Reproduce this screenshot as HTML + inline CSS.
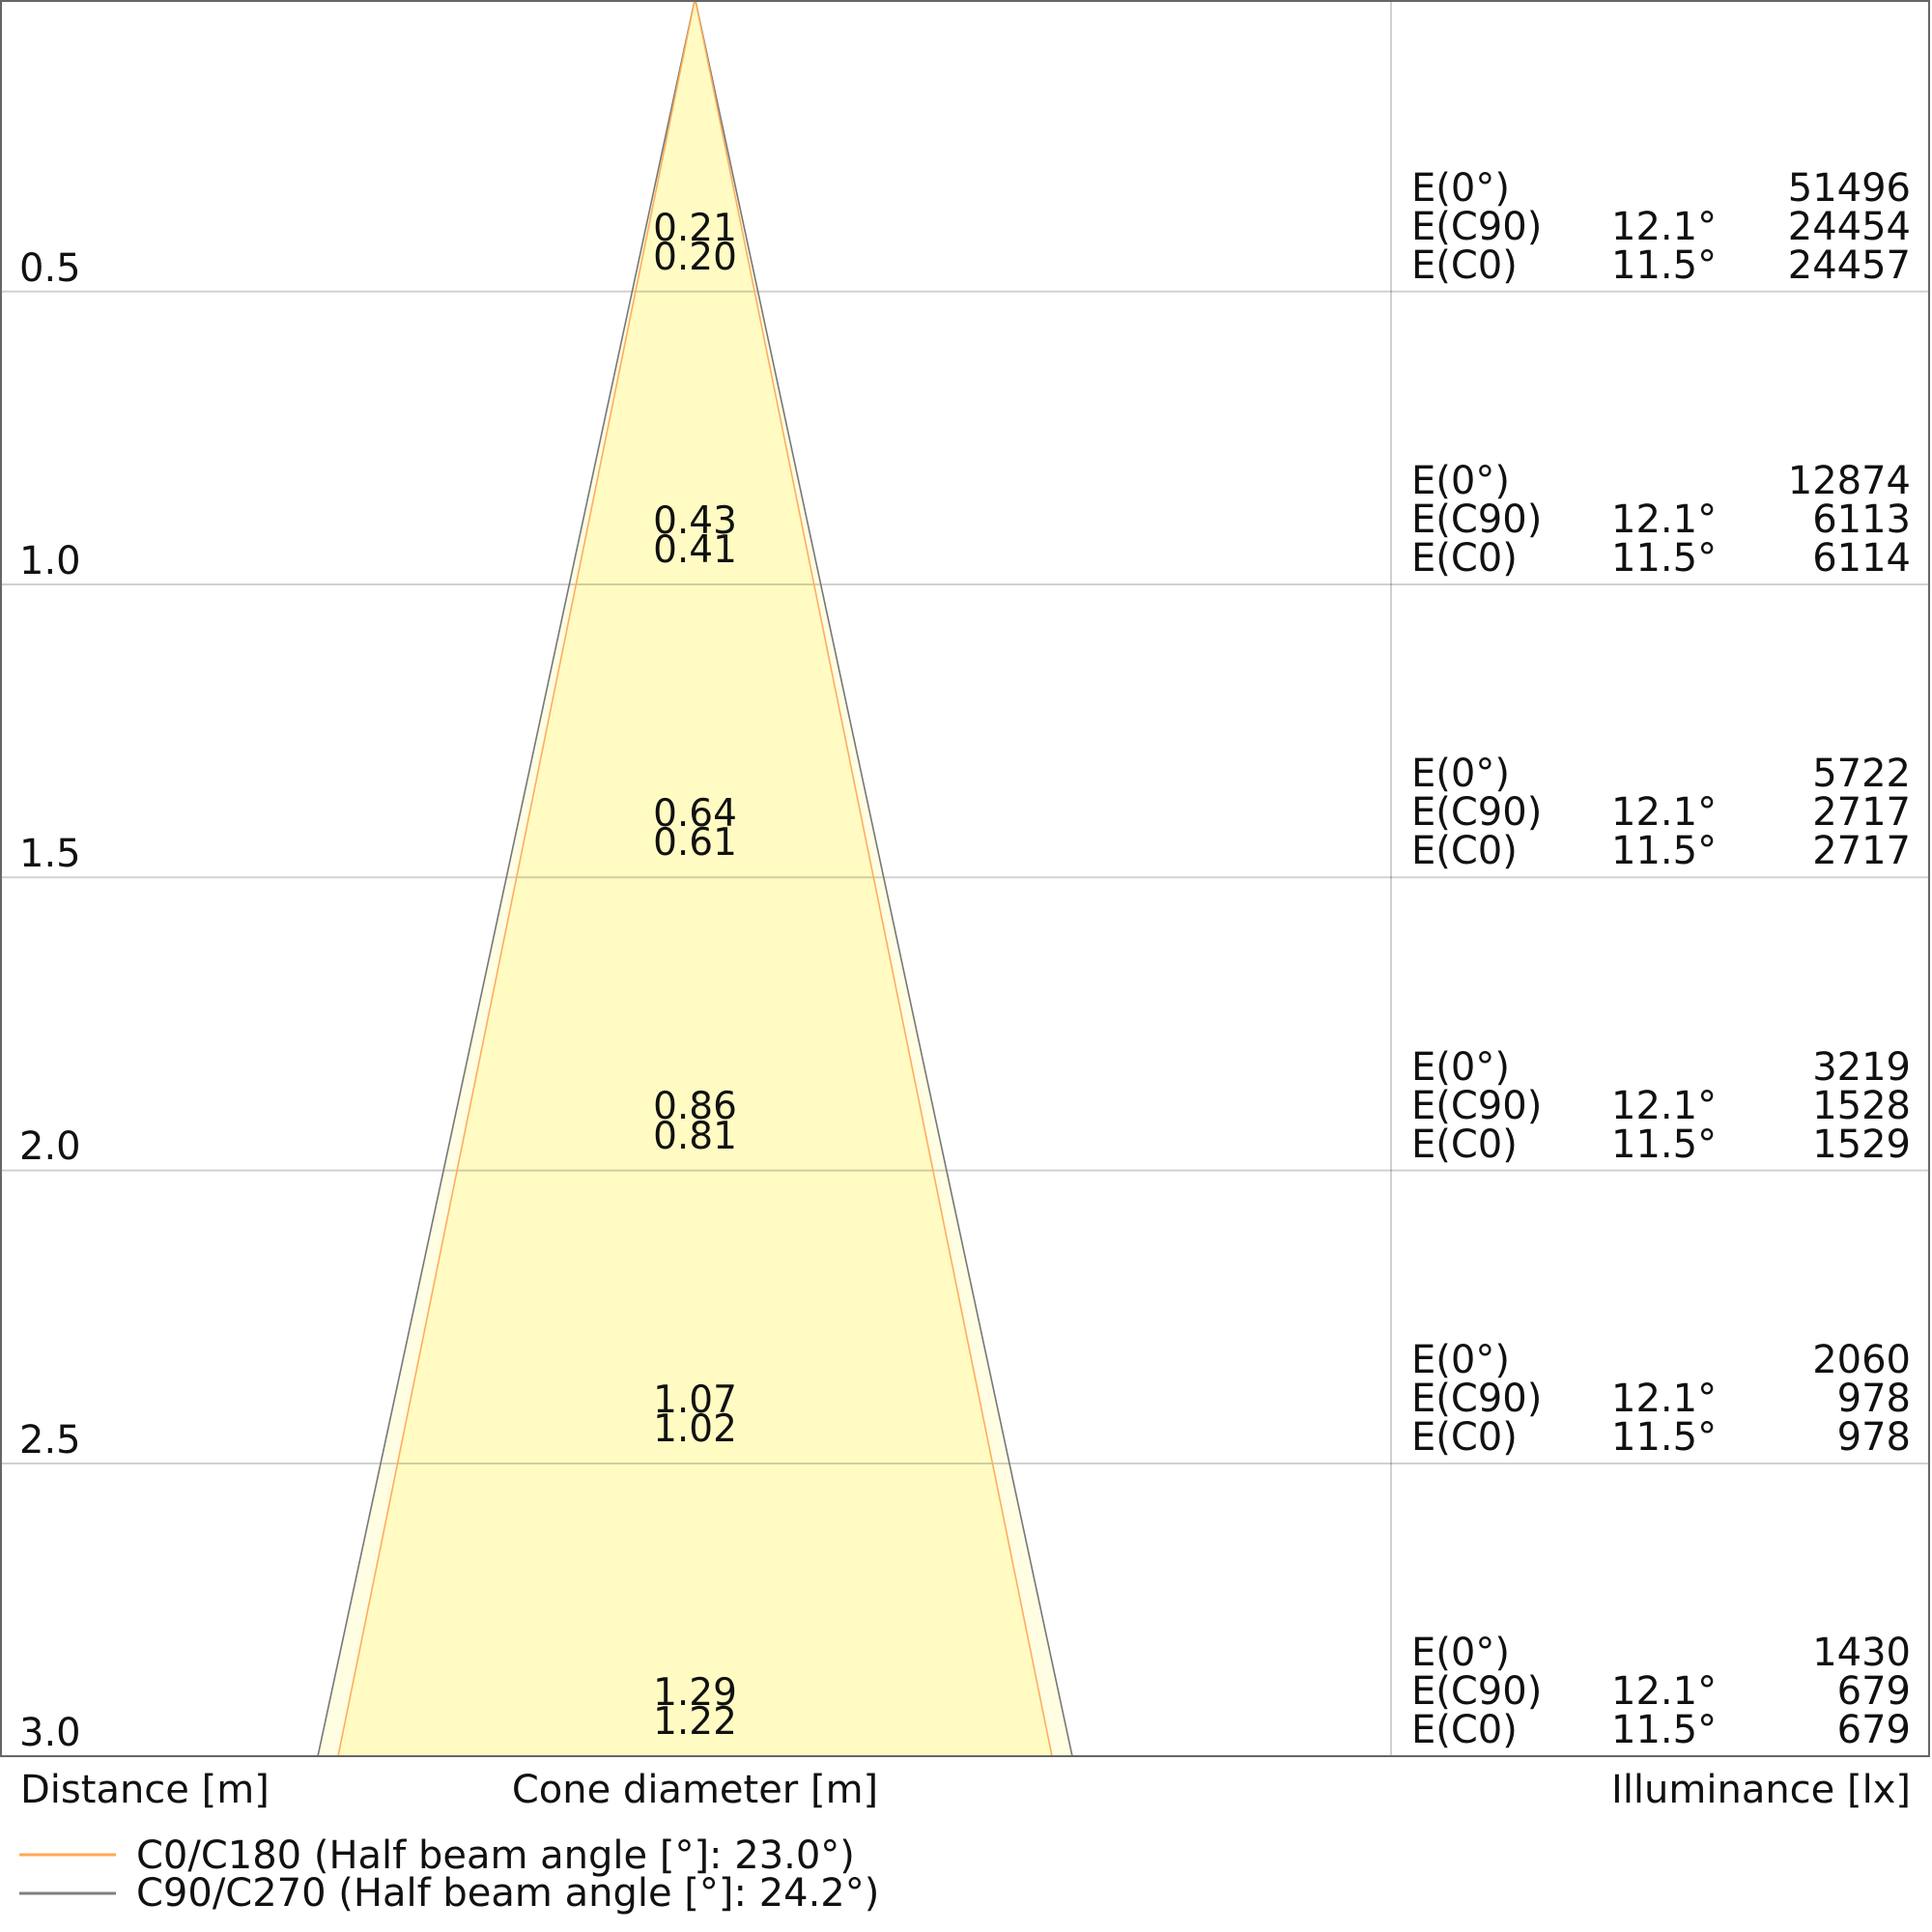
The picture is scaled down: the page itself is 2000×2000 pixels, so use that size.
<!DOCTYPE html>
<html>
<head>
<meta charset="utf-8">
<style>
  html,body{margin:0;padding:0;background:#fff;}
  svg{display:block;}
  text{font-family:"DejaVu Sans","Liberation Sans",sans-serif;fill:#111;}
</style>
</head>
<body>
<svg width="2000" height="2000" viewBox="0 0 2000 2000" xmlns="http://www.w3.org/2000/svg">
  <rect x="0" y="0" width="2000" height="2000" fill="#fff"/>

  <!-- cone fills -->
  <polygon points="719.5,-1.6 329,1818 1110,1818" fill="#fffde2"/>
  <polygon points="719.5,-1.6 350,1818 1089,1818" fill="#fffbc3"/>

  <!-- grid lines -->
  <g stroke="rgba(0,0,0,0.18)" stroke-width="2">
    <line x1="0" y1="301.7" x2="1998" y2="301.7"/>
    <line x1="0" y1="605" x2="1998" y2="605"/>
    <line x1="0" y1="908.3" x2="1998" y2="908.3"/>
    <line x1="0" y1="1211.6" x2="1998" y2="1211.6"/>
    <line x1="0" y1="1515" x2="1998" y2="1515"/>
    <line x1="1440" y1="0" x2="1440" y2="1818"/>
  </g>

  <!-- cone edges -->
  <g fill="none" stroke-width="1.6">
    <polyline points="329,1818 719.5,-1.6 1110,1818" stroke="#777"/>
    <polyline points="350,1818 719.5,-1.6 1089,1818" stroke="#ffad5c"/>
  </g>

  <!-- frame -->
  <g stroke="#666" stroke-width="2" fill="none">
    <line x1="0" y1="1" x2="1998" y2="1"/>
    <line x1="1" y1="0" x2="1" y2="1818"/>
    <line x1="1997" y1="0" x2="1997" y2="1818"/>
    <line x1="0" y1="1818" x2="1998" y2="1818"/>
  </g>

  <!-- distance labels -->
  <g font-size="40">
    <text x="20" y="291">0.5</text>
    <text x="20" y="594">1.0</text>
    <text x="20" y="897">1.5</text>
    <text x="20" y="1200">2.0</text>
    <text x="20" y="1504">2.5</text>
    <text x="20" y="1807">3.0</text>
  </g>

  <!-- cone diameter labels -->
  <g font-size="39" text-anchor="middle">
    <text x="719.5" y="249">0.21</text>
    <text x="719.5" y="279">0.20</text>
    <text x="719.5" y="552">0.43</text>
    <text x="719.5" y="582">0.41</text>
    <text x="719.5" y="855">0.64</text>
    <text x="719.5" y="885">0.61</text>
    <text x="719.5" y="1158">0.86</text>
    <text x="719.5" y="1189">0.81</text>
    <text x="719.5" y="1462">1.07</text>
    <text x="719.5" y="1492">1.02</text>
    <text x="719.5" y="1765">1.29</text>
    <text x="719.5" y="1795">1.22</text>
  </g>

  <!-- illuminance table -->
  <g font-size="40">
    <!-- 0.5 -->
    <text x="1461" y="208">E(0°)</text>
    <text x="1461" y="248">E(C90)</text>
    <text x="1461" y="288">E(C0)</text>
    <text x="1668" y="248">12.1°</text>
    <text x="1668" y="288">11.5°</text>
    <!-- 1.0 -->
    <text x="1461" y="511">E(0°)</text>
    <text x="1461" y="551">E(C90)</text>
    <text x="1461" y="591">E(C0)</text>
    <text x="1668" y="551">12.1°</text>
    <text x="1668" y="591">11.5°</text>
    <!-- 1.5 -->
    <text x="1461" y="814">E(0°)</text>
    <text x="1461" y="854">E(C90)</text>
    <text x="1461" y="894">E(C0)</text>
    <text x="1668" y="854">12.1°</text>
    <text x="1668" y="894">11.5°</text>
    <!-- 2.0 -->
    <text x="1461" y="1118">E(0°)</text>
    <text x="1461" y="1158">E(C90)</text>
    <text x="1461" y="1198">E(C0)</text>
    <text x="1668" y="1158">12.1°</text>
    <text x="1668" y="1198">11.5°</text>
    <!-- 2.5 -->
    <text x="1461" y="1421">E(0°)</text>
    <text x="1461" y="1461">E(C90)</text>
    <text x="1461" y="1501">E(C0)</text>
    <text x="1668" y="1461">12.1°</text>
    <text x="1668" y="1501">11.5°</text>
    <!-- 3.0 -->
    <text x="1461" y="1724">E(0°)</text>
    <text x="1461" y="1764">E(C90)</text>
    <text x="1461" y="1804">E(C0)</text>
    <text x="1668" y="1764">12.1°</text>
    <text x="1668" y="1804">11.5°</text>
  </g>
  <g font-size="40" text-anchor="end">
    <text x="1978" y="208">51496</text>
    <text x="1978" y="248">24454</text>
    <text x="1978" y="288">24457</text>
    <text x="1978" y="511">12874</text>
    <text x="1978" y="551">6113</text>
    <text x="1978" y="591">6114</text>
    <text x="1978" y="814">5722</text>
    <text x="1978" y="854">2717</text>
    <text x="1978" y="894">2717</text>
    <text x="1978" y="1118">3219</text>
    <text x="1978" y="1158">1528</text>
    <text x="1978" y="1198">1529</text>
    <text x="1978" y="1421">2060</text>
    <text x="1978" y="1461">978</text>
    <text x="1978" y="1501">978</text>
    <text x="1978" y="1724">1430</text>
    <text x="1978" y="1764">679</text>
    <text x="1978" y="1804">679</text>
  </g>

  <!-- axis titles -->
  <g font-size="40">
    <text x="21" y="1866">Distance [m]</text>
    <text x="719.5" y="1866" text-anchor="middle">Cone diameter [m]</text>
    <text x="1978" y="1866" text-anchor="end">Illuminance [lx]</text>
  </g>

  <!-- legend -->
  <line x1="20" y1="1920" x2="120" y2="1920" stroke="#ffa854" stroke-width="3"/>
  <line x1="20" y1="1960" x2="120" y2="1960" stroke="#808080" stroke-width="3"/>
  <g font-size="40">
    <text x="141" y="1934">C0/C180 (Half beam angle [°]: 23.0°)</text>
    <text x="141" y="1973">C90/C270 (Half beam angle [°]: 24.2°)</text>
  </g>
</svg>
</body>
</html>
